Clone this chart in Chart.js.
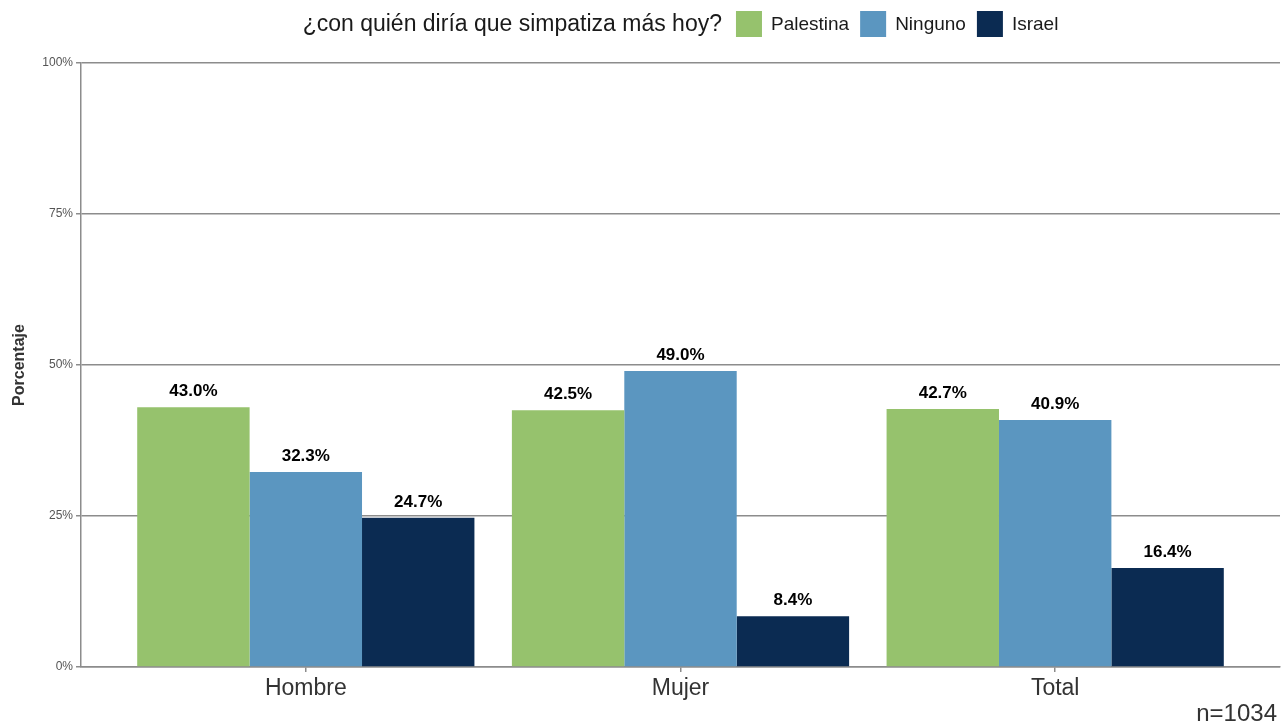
<!DOCTYPE html>
<html>
<head>
<meta charset="utf-8">
<script src="https://cdn.jsdelivr.net/npm/chart.js@4.4.1/dist/chart.umd.min.js"></script>
<style>
  html, body { margin: 0; padding: 0; background: #fff; }
  #wrap { width: 1281px; height: 724px; }
</style>
</head>
<body>
<div id="wrap"><canvas id="chart"></canvas></div>
<script>
var categories = ['Hombre', 'Mujer', 'Total'];
var seriesNames = ['Palestina', 'Ninguno', 'Israel'];
var palestina = [43.0, 42.5, 42.7];
var ninguno   = [32.3, 49.0, 40.9];
var israel    = [24.7, 8.4, 16.4];
var yTicks = [0, 25, 50, 75, 100];

var legendTitle = '¿con quién diría que simpatiza más hoy?';
var sampleNote = 'n=1034';

var green = '#96C26D',
    blue  = '#5B96C0',
    navy  = '#0B2B52',
    grid  = '#8C8C8C';

var FONT = '"Liberation Sans", Arial, Helvetica, sans-serif';

function toPoints(values) {
    return values.map(function (v, i) { return { x: i, y: v }; });
}

// ------------------------------------------------------- //
// legend with title on the same row + labels + note
// ------------------------------------------------------ //
var extras = {
    id: 'extras',
    afterDatasetsDraw: function (chart) {
        var ctx = chart.ctx;
        var area = chart.chartArea;

        // value labels
        ctx.save();
        ctx.font = 'bold 17px ' + FONT;
        ctx.fillStyle = '#000';
        ctx.textAlign = 'center';
        ctx.textBaseline = 'alphabetic';
        chart.data.datasets.forEach(function (ds, di) {
            chart.getDatasetMeta(di).data.forEach(function (bar, i) {
                ctx.fillText(ds.data[i].y.toFixed(1) + '%', bar.x, bar.y - 11);
            });
        });
        ctx.restore();

        // legend
        ctx.save();
        var box = 26, gapTitle = 14, gapBox = 9, gapItem = 11, cy = 24;
        ctx.font = '23px ' + FONT;
        var titleW = ctx.measureText(legendTitle).width;
        ctx.font = '19px ' + FONT;
        var itemsW = 0;
        chart.data.datasets.forEach(function (ds, i) {
            itemsW += box + gapBox + ctx.measureText(ds.label).width;
            if (i < chart.data.datasets.length - 1) itemsW += gapItem;
        });
        var total = titleW + gapTitle + itemsW;
        var x = (area.left + area.right) / 2 - total / 2;
        ctx.textBaseline = 'middle';
        ctx.textAlign = 'left';
        ctx.fillStyle = '#1a1a1a';
        ctx.font = '23px ' + FONT;
        ctx.fillText(legendTitle, x, cy + 1);
        x += titleW + gapTitle;
        ctx.font = '19px ' + FONT;
        chart.data.datasets.forEach(function (ds) {
            ctx.fillStyle = ds.backgroundColor;
            ctx.fillRect(x, cy - box / 2, box, box);
            x += box + gapBox;
            ctx.fillStyle = '#1a1a1a';
            ctx.fillText(ds.label, x, cy + 1);
            x += ctx.measureText(ds.label).width + gapItem;
        });

        // sample size note
        ctx.font = '24px ' + FONT;
        ctx.fillStyle = '#333';
        ctx.textAlign = 'right';
        ctx.textBaseline = 'alphabetic';
        ctx.fillText(sampleNote, chart.width - 4, 721);
        ctx.restore();
    }
};

var ctx = document.getElementById('chart').getContext('2d');
var chart = new Chart(ctx, {
    type: 'bar',
    data: {
        datasets: [
            { label: seriesNames[0], data: toPoints(palestina), backgroundColor: green },
            { label: seriesNames[1], data: toPoints(ninguno),   backgroundColor: blue },
            { label: seriesNames[2], data: toPoints(israel),    backgroundColor: navy }
        ]
    },
    options: {
        responsive: true,
        maintainAspectRatio: false,
        animation: false,
        categoryPercentage: 0.9,
        barPercentage: 1.0,
        layout: { padding: { top: 63, right: 1, left: 0, bottom: 0 } },
        plugins: {
            legend: { display: false },
            tooltip: { enabled: false }
        },
        scales: {
            x: {
                type: 'linear',
                offset: false,
                min: -0.6,
                max: categories.length - 1 + 0.6,
                afterBuildTicks: function (scale) {
                    scale.ticks = categories.map(function (c, i) { return { value: i }; });
                },
                afterFit: function (scale) { scale.height = 57; },
                ticks: {
                    callback: function (v) { return categories[v]; },
                    font: { size: 23, family: FONT },
                    color: '#333',
                    padding: 3,
                    maxRotation: 0,
                    autoSkip: false
                },
                grid: {
                    offset: false,
                    drawOnChartArea: false,
                    drawTicks: true,
                    tickLength: 5,
                    color: grid,
                    lineWidth: 1.5
                },
                border: { display: true, color: grid, width: 1.5 }
            },
            y: {
                min: 0,
                max: 100,
                afterBuildTicks: function (scale) {
                    scale.ticks = yTicks.map(function (v) { return { value: v }; });
                },
                afterFit: function (scale) { scale.width = 81; },
                ticks: {
                    callback: function (v) { return v + '%'; },
                    font: { size: 12, family: FONT },
                    color: '#555',
                    padding: 3
                },
                grid: {
                    color: grid,
                    lineWidth: 1.5,
                    tickLength: 5
                },
                border: { display: true, color: grid, width: 1.5 },
                title: {
                    display: true,
                    text: 'Porcentaje',
                    font: { size: 16, weight: 'bold', family: FONT },
                    color: '#333',
                    padding: { top: 10, bottom: 0 }
                }
            }
        }
    },
    plugins: [extras]
});
</script>
</body>
</html>
